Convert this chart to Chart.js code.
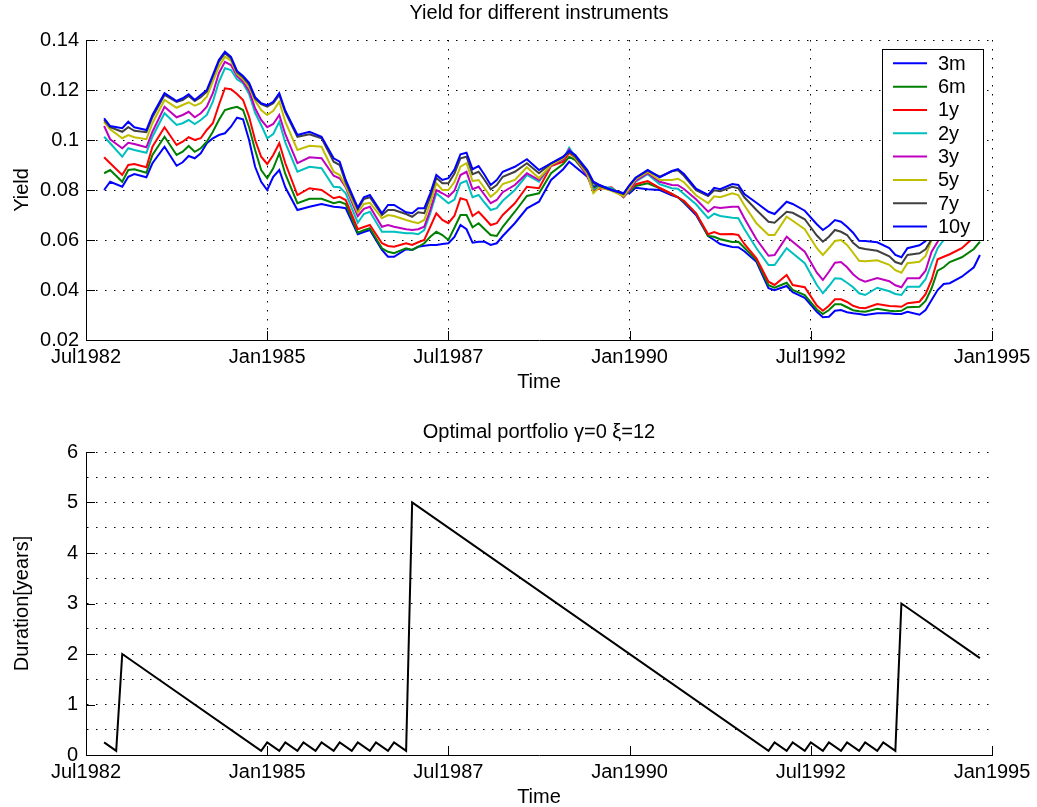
<!DOCTYPE html>
<html>
<head>
<meta charset="utf-8">
<script src="https://cdn.jsdelivr.net/npm/chart.js@4.4.0/dist/chart.umd.min.js"></script>
<style>
  html, body { margin: 0; padding: 0; background: #fff; }
  canvas { position: absolute; left: 0; }
  #yieldChart { top: 0; }
  #durationChart { top: 400px; }
</style>
</head>
<body>
<canvas id="yieldChart" width="1037" height="400"></canvas>
<canvas id="durationChart" width="1037" height="407"></canvas>
<script>
// x axis: months counted from Jul1982
const tickMonths = [0, 30, 60, 90, 120, 150];
const tickLabels = ["Jul1982", "Jan1985", "Jul1987", "Jan1990", "Jul1992", "Jan1995"];
const yieldTickValues = [0.02, 0.04, 0.06, 0.08, 0.10, 0.12, 0.14];
const yieldTickLabels = ["0.02", "0.04", "0.06", "0.08", "0.1", "0.12", "0.14"];
const durTickValues = [0, 0.5, 1, 1.5, 2, 2.5, 3, 3.5, 4, 4.5, 5, 5.5, 6];

const months = [3,4,6,7,8,10,11,13,15,16,17,18,19,20,21,22,23,24,25,26,27,28,29,30,31,32,
  33,35,37,39,41,42,43,45,46,47,49,50,51,53,54,55,56,57,58,59,60,61,
  62,63,64,65,66,67,68,69,71,73,75,77,79,80,81,83,84,85,87,89,90,
  91,93,95,97,98,99,101,103,104,105,107,108,109,111,113,114,116,117,119,121,
  122,123,124,125,126,127,128,129,131,133,134,135,136,138,139,140,141,142,143,145,147,148];

const y3m = [.0800,.0833,.0813,.0853,.0864,.0851,.0907,.0973,.0897,.0911,.0936,.0927,.0947,.0987,.1007,.1020,.1027,.1053,.1089,.1083,.1000,.0893,.0833,.0800,.0853,.0880,
  .0811,.0720,.0733,.0744,.0733,.0731,.0727,.0623,.0632,.0640,.0560,.0533,.0533,.0563,.0560,.0573,.0577,.0580,.0580,.0584,.0587,.0612,
  .0660,.0643,.0589,.0593,.0593,.0580,.0587,.0616,.0667,.0727,.0753,.0840,.0883,.0913,.0893,.0853,.0813,.0820,.0800,.0787,.0787,
  .0809,.0803,.0800,.0779,.0771,.0749,.0700,.0616,.0600,.0584,.0572,.0571,.0555,.0513,.0407,.0399,.0416,.0391,.0369,.0313,
  .0291,.0293,.0317,.0320,.0311,.0307,.0304,.0300,.0307,.0307,.0304,.0304,.0313,.0301,.0320,.0360,.0400,.0424,.0427,.0453,.0491,.0540];
const y6m = [.0867,.0880,.0833,.0880,.0883,.0869,.0940,.1013,.0940,.0953,.0976,.0953,.0967,.0993,.1033,.1080,.1120,.1127,.1133,.1120,.1051,.0960,.0880,.0847,.0887,.0947,
  .0864,.0747,.0765,.0765,.0747,.0753,.0744,.0629,.0639,.0647,.0567,.0553,.0547,.0567,.0560,.0573,.0587,.0613,.0633,.0620,.0600,.0649,
  .0700,.0700,.0651,.0667,.0643,.0620,.0616,.0653,.0713,.0776,.0787,.0867,.0904,.0933,.0920,.0860,.0807,.0813,.0805,.0780,.0793,
  .0816,.0827,.0807,.0784,.0771,.0753,.0707,.0616,.0613,.0603,.0592,.0593,.0569,.0520,.0419,.0409,.0429,.0400,.0380,.0322,
  .0304,.0320,.0343,.0343,.0331,.0319,.0315,.0313,.0325,.0317,.0315,.0317,.0331,.0333,.0356,.0407,.0477,.0491,.0512,.0531,.0564,.0593];
const y1y = [.0931,.0907,.0860,.0900,.0904,.0891,.0973,.1051,.0980,.0993,.1011,.1000,.1007,.1040,.1067,.1140,.1207,.1203,.1184,.1160,.1093,.1000,.0933,.0904,.0940,.0987,
  .0907,.0780,.0807,.0800,.0767,.0773,.0760,.0643,.0652,.0660,.0587,.0576,.0573,.0587,.0580,.0591,.0600,.0653,.0707,.0680,.0667,.0697,
  .0767,.0760,.0696,.0713,.0687,.0660,.0667,.0700,.0747,.0813,.0807,.0896,.0913,.0949,.0927,.0860,.0800,.0805,.0811,.0771,.0800,
  .0823,.0836,.0808,.0784,.0771,.0757,.0707,.0623,.0632,.0623,.0624,.0620,.0584,.0527,.0433,.0420,.0460,.0420,.0411,.0338,
  .0317,.0337,.0363,.0363,.0352,.0337,.0329,.0327,.0344,.0336,.0335,.0333,.0347,.0353,.0383,.0440,.0523,.0533,.0543,.0567,.0611,.0640];
const y2y = [.1013,.0987,.0933,.0967,.0960,.0949,.1013,.1107,.1060,.1067,.1080,.1064,.1080,.1100,.1153,.1233,.1287,.1280,.1243,.1227,.1184,.1109,.1060,.1007,.1024,.1073,
  .0989,.0873,.0893,.0887,.0813,.0811,.0787,.0669,.0704,.0713,.0633,.0633,.0633,.0627,.0627,.0623,.0640,.0707,.0787,.0767,.0747,.0762,
  .0827,.0837,.0771,.0780,.0749,.0720,.0727,.0757,.0800,.0860,.0833,.0900,.0923,.0969,.0933,.0864,.0800,.0813,.0808,.0773,.0800,
  .0833,.0863,.0823,.0807,.0805,.0784,.0743,.0687,.0705,.0696,.0689,.0687,.0644,.0567,.0500,.0500,.0567,.0547,.0507,.0420,
  .0387,.0416,.0447,.0445,.0429,.0411,.0387,.0380,.0409,.0395,.0384,.0380,.0413,.0413,.0443,.0507,.0567,.0600,.0640,.0673,.0700,.0713];
const y3y = [.1056,.1003,.0967,.0989,.0984,.0971,.1033,.1133,.1091,.1100,.1113,.1091,.1107,.1133,.1187,.1267,.1313,.1300,.1256,.1233,.1197,.1127,.1080,.1051,.1064,.1100,
  .1023,.0907,.0931,.0927,.0857,.0847,.0811,.0696,.0725,.0733,.0653,.0660,.0653,.0643,.0640,.0643,.0653,.0720,.0800,.0787,.0773,.0797,
  .0860,.0873,.0803,.0813,.0780,.0747,.0760,.0791,.0820,.0867,.0840,.0900,.0923,.0963,.0927,.0856,.0793,.0811,.0800,.0776,.0800,
  .0837,.0867,.0833,.0820,.0819,.0804,.0763,.0713,.0732,.0728,.0733,.0733,.0687,.0603,.0537,.0540,.0613,.0593,.0553,.0469,
  .0440,.0473,.0509,.0512,.0491,.0463,.0443,.0433,.0448,.0435,.0419,.0411,.0447,.0447,.0477,.0553,.0593,.0640,.0673,.0700,.0720,.0733];
const y5y = [.1073,.1043,.1007,.1020,.1011,.1003,.1067,.1160,.1129,.1140,.1151,.1137,.1147,.1173,.1233,.1293,.1333,.1317,.1264,.1243,.1211,.1157,.1120,.1100,.1117,.1153,
  .1073,.0960,.0977,.0973,.0873,.0860,.0816,.0709,.0744,.0749,.0687,.0700,.0696,.0680,.0673,.0667,.0680,.0747,.0827,.0800,.0800,.0832,
  .0893,.0907,.0836,.0840,.0807,.0773,.0793,.0824,.0840,.0891,.0847,.0900,.0927,.0956,.0927,.0864,.0787,.0811,.0797,.0776,.0807,
  .0843,.0872,.0840,.0840,.0845,.0831,.0779,.0747,.0775,.0771,.0787,.0780,.0739,.0667,.0620,.0620,.0693,.0677,.0643,.0567,
  .0540,.0567,.0596,.0600,.0580,.0549,.0517,.0515,.0519,.0501,.0479,.0469,.0507,.0513,.0536,.0600,.0620,.0660,.0687,.0713,.0733,.0747];
const y7y = [.1080,.1051,.1033,.1051,.1037,.1031,.1091,.1180,.1152,.1160,.1176,.1156,.1171,.1193,.1253,.1313,.1347,.1327,.1271,.1251,.1223,.1165,.1143,.1133,.1147,.1180,
  .1111,.1013,.1023,.1007,.0913,.0900,.0829,.0723,.0764,.0771,.0700,.0720,.0720,.0704,.0693,.0711,.0707,.0773,.0849,.0827,.0827,.0866,
  .0927,.0933,.0863,.0873,.0840,.0803,.0820,.0853,.0873,.0907,.0867,.0907,.0931,.0953,.0933,.0873,.0827,.0816,.0800,.0784,.0820,
  .0849,.0877,.0853,.0875,.0879,.0857,.0799,.0776,.0799,.0795,.0813,.0807,.0771,.0720,.0673,.0669,.0713,.0709,.0683,.0618,
  .0593,.0613,.0640,.0633,.0620,.0589,.0569,.0564,.0557,.0535,.0512,.0504,.0540,.0547,.0563,.0603,.0653,.0680,.0700,.0720,.0740,.0753];
const y10y = [.1087,.1056,.1047,.1073,.1051,.1040,.1100,.1187,.1156,.1167,.1183,.1160,.1180,.1200,.1260,.1320,.1353,.1333,.1276,.1256,.1229,.1171,.1147,.1139,.1153,.1187,
  .1117,.1020,.1033,.1013,.0927,.0913,.0840,.0729,.0771,.0780,.0707,.0740,.0740,.0711,.0707,.0727,.0727,.0787,.0860,.0840,.0847,.0882,
  .0943,.0949,.0883,.0896,.0860,.0820,.0840,.0873,.0893,.0923,.0880,.0907,.0933,.0957,.0940,.0880,.0833,.0820,.0800,.0787,.0820,
  .0849,.0880,.0851,.0876,.0884,.0864,.0805,.0780,.0809,.0803,.0824,.0820,.0784,.0749,.0713,.0704,.0753,.0744,.0717,.0663,
  .0640,.0657,.0680,.0673,.0653,.0629,.0597,.0596,.0591,.0568,.0540,.0531,.0567,.0579,.0596,.0640,.0680,.0700,.0713,.0733,.0753,.0767];

const seriesNames = ["3m", "6m", "1y", "2y", "3y", "5y", "7y", "10y"];
const seriesColors = ["#0000ff", "#008000", "#ff0000", "#00bfbf", "#bf00bf", "#bfbf00", "#404040", "#0000ff"];
const seriesValues = [y3m, y6m, y1y, y2y, y3y, y5y, y7y, y10y];

// duration of the optimal portfolio, corner points only (straight runs in between)
const durMonths = [3,5,6,29,30,32,33,35,36,38,39,41,42,44,45,47,48,50,51,53,54,
  113,114,116,117,119,120,122,123,125,126,128,129,131,132,134,135,148];
const durValues = [0.25,0.083,2.0,0.083,0.25,0.083,0.25,0.083,0.25,0.083,0.25,0.083,0.25,0.083,0.25,0.083,0.25,0.083,0.25,0.083,5.0,
  0.083,0.25,0.083,0.25,0.083,0.25,0.083,0.25,0.083,0.25,0.083,0.25,0.083,0.25,0.083,3.0,1.917];

Chart.defaults.font.family = "'Liberation Sans', Arial, sans-serif";
Chart.defaults.font.size = 20;
Chart.defaults.color = "#000";

const dots = [1.5, 7.5];

// MATLAB style ticks pointing into the plot
const innerTicks = {
  id: "innerTicks",
  afterDraw(chart) {
    const { ctx, chartArea: a, scales } = chart;
    ctx.save();
    ctx.strokeStyle = "#000";
    ctx.lineWidth = 1;
    scales.x.ticks.forEach(t => {
      const px = Math.round(scales.x.getPixelForValue(t.value)) + 0.5;
      ctx.beginPath(); ctx.moveTo(px, a.bottom); ctx.lineTo(px, a.bottom - 9); ctx.stroke();
    });
    scales.y.ticks.forEach(t => {
      if (t.label === "") return;
      const py = Math.round(scales.y.getPixelForValue(t.value)) + 0.5;
      ctx.beginPath(); ctx.moveTo(a.left, py); ctx.lineTo(a.left + 9, py); ctx.stroke();
    });
    ctx.restore();
  }
};

// boxed legend inside the top right corner, drawn over the lines
const boxLegend = {
  id: "boxLegend",
  afterDatasetsDraw(chart) {
    const { ctx, chartArea } = chart;
    const sets = chart.data.datasets;
    const rowH = 23.33, w = 101, h = sets.length * rowH + 4.5;
    const left = chartArea.right - 9 - w, top = chartArea.top + 9;
    ctx.save();
    ctx.fillStyle = "#fff";
    ctx.fillRect(left, top, w, h);
    ctx.strokeStyle = "#000";
    ctx.lineWidth = 1;
    ctx.strokeRect(Math.round(left) + 0.5, Math.round(top) + 0.5, w, Math.round(h));
    ctx.font = "20px 'Liberation Sans', Arial, sans-serif";
    ctx.textBaseline = "middle";
    ctx.textAlign = "left";
    sets.forEach((ds, i) => {
      const y = top + 14.3 + i * rowH;
      ctx.strokeStyle = ds.borderColor;
      ctx.lineWidth = 2;
      ctx.beginPath(); ctx.moveTo(left + 11, y); ctx.lineTo(left + 45, y); ctx.stroke();
      ctx.fillStyle = "#000";
      ctx.fillText(ds.label, left + 56, y + 1);
    });
    ctx.restore();
  }
};

const xScale = (height, withGrid, titlePad) => ({
  type: "linear",
  min: 0,
  max: 150,
  afterBuildTicks: s => { s.ticks = tickMonths.map(v => ({ value: v })); },
  afterFit: s => { s.height = height; },
  ticks: { callback: v => tickLabels[tickMonths.indexOf(v)], maxRotation: 0, autoSkip: false, padding: 5 },
  grid: { display: withGrid, color: "#000", lineWidth: 1, drawTicks: false },
  border: { display: true, color: "#000", width: 1, dash: dots },
  title: { display: true, text: "Time", font: { size: 20, lineHeight: 1 }, padding: { top: 0, bottom: titlePad } }
});

new Chart(document.getElementById("yieldChart"), {
  type: "line",
  data: {
    datasets: seriesNames.map((name, i) => ({
      label: name,
      data: months.map((m, k) => ({ x: m, y: seriesValues[i][k] })),
      borderColor: seriesColors[i],
      borderWidth: 2,
      pointRadius: 0,
      tension: 0,
      order: seriesNames.length - 1 - i
    }))
  },
  options: {
    responsive: false,
    animation: false,
    devicePixelRatio: 1,
    layout: { padding: { left: 0, right: 45, top: 1, bottom: 0 } },
    plugins: {
      legend: { display: false },
      tooltip: { enabled: false },
      title: { display: true, fullSize: false, text: "Yield for different instruments", font: { size: 20, weight: "normal", lineHeight: 1.2 }, padding: { top: 0, bottom: 15 } }
    },
    scales: {
      x: xScale(60, true, 8),
      y: {
        min: 0.02,
        max: 0.14,
        afterBuildTicks: s => { s.ticks = yieldTickValues.map(v => ({ value: v })); },
        afterFit: s => { s.width = 86; },
        ticks: { callback: (v, i) => yieldTickLabels[i], padding: 7 },
        grid: { color: "#000", lineWidth: 1, drawTicks: false },
        border: { display: true, color: "#000", width: 1, dash: dots },
        title: { display: true, text: "Yield", font: { size: 20, lineHeight: 1 }, padding: { top: 12, bottom: 0 } }
      }
    }
  },
  plugins: [boxLegend, innerTicks]
});

new Chart(document.getElementById("durationChart"), {
  type: "line",
  data: {
    datasets: [{
      label: "Duration",
      data: durMonths.map((m, k) => ({ x: m, y: durValues[k] })),
      borderColor: "#000",
      borderWidth: 2,
      pointRadius: 0,
      tension: 0
    }]
  },
  options: {
    responsive: false,
    animation: false,
    devicePixelRatio: 1,
    layout: { padding: { left: 0, right: 45, top: 20, bottom: 0 } },
    plugins: {
      legend: { display: false },
      tooltip: { enabled: false },
      title: { display: true, fullSize: false, text: "Optimal portfolio γ=0 ξ=12", font: { size: 20, weight: "normal", lineHeight: 1.2 }, padding: { top: 0, bottom: 8 } }
    },
    scales: {
      x: xScale(52, false, 0),
      y: {
        min: 0,
        max: 6,
        afterBuildTicks: s => { s.ticks = durTickValues.map(v => ({ value: v })); },
        afterFit: s => { s.width = 86; },
        ticks: { callback: v => (Number.isInteger(v) ? String(v) : ""), autoSkip: false, padding: 8 },
        grid: { color: "#000", lineWidth: 1, drawTicks: false },
        border: { display: true, color: "#000", width: 1, dash: dots },
        title: { display: true, text: "Duration[years]", font: { size: 20, lineHeight: 1 }, padding: { top: 12, bottom: 0 } }
      }
    }
  },
  plugins: [innerTicks]
});
</script>
</body>
</html>
